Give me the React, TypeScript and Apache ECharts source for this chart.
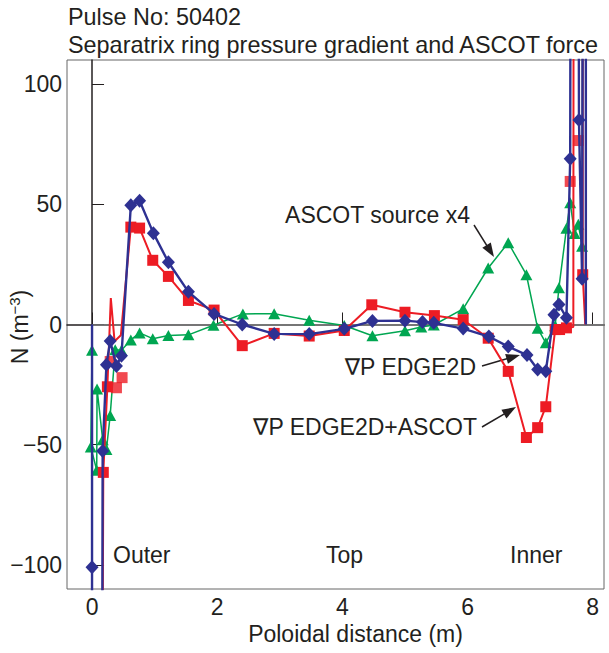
import React, { useEffect, useRef } from 'react';
import * as echarts from 'echarts';

const titleLines = ['Pulse No: 50402', 'Separatrix ring pressure gradient and ASCOT force'];
const xAxisName = 'Poloidal distance (m)';
const xTicks = [0, 2, 4, 6, 8];
const yTicks = [-100, -50, 0, 50, 100];

// [poloidal distance (m), N (m^-3), marker shown: 1, line vertex only: 0]
const edge2d: number[][] = [
  [0, 0, 0], [0, -101, 1], [0, -400, 0], [0.14, -400, 0], [0.17, -52.6, 1],
  [0.23, -16.7, 1], [0.29, -6.9, 1], [0.39, -17.3, 1], [0.47, -13.0, 1],
  [0.62, 49.6, 1], [0.76, 51.5, 1], [0.98, 38.0, 1], [1.22, 25.9, 1],
  [1.54, 13.6, 1], [1.95, 4.4, 1], [2.4, 0, 1], [2.91, -3.9, 1], [3.47, -4.0, 1],
  [4.03, -1.8, 1], [4.48, 1.5, 1], [5.0, 1.6, 1], [5.28, 1.0, 1], [5.46, 0.7, 1],
  [5.93, -1.7, 1], [6.34, -5.0, 1], [6.65, -9.2, 1], [6.95, -12.7, 1],
  [7.12, -18.7, 1], [7.25, -19.4, 1], [7.38, 4.1, 1], [7.46, 8.3, 1],
  [7.58, 2.8, 1], [7.64, 68.9, 1], [7.66, 400, 0], [7.76, 400, 0],
  [7.78, 85, 1], [7.83, 19, 1], [7.86, 400, 0], [7.89, 400, 0], [7.89, 0, 0],
];

const edge2dAscot: number[][] = [
  [0.13, -400, 0], [0.18, -61.5, 1], [0.245, -25.9, 1], [0.3, 11, 0],
  [0.36, -7, 0], [0.46, -4.5, 0], [0.62, 40.5, 1], [0.76, 40.1, 1],
  [0.97, 26.7, 1], [1.22, 20.0, 1], [1.54, 10.0, 1], [1.95, 6.0, 1],
  [2.4, -8.8, 1], [2.91, -3.7, 1], [3.47, -4.8, 1], [4.03, -2.5, 1],
  [4.47, 8.2, 1], [5.0, 5.1, 1], [5.47, 3.7, 1], [5.93, 2.0, 1],
  [6.33, -5.7, 1], [6.65, -19.5, 1], [6.94, -47.0, 1], [7.12, -42.9, 1],
  [7.25, -34.2, 1], [7.4, -2.1, 1], [7.47, -2.1, 1], [7.58, -1.4, 1],
  [7.69, -1, 0], [7.7, 400, 0], [7.84, 400, 0], [7.84, 20.7, 1], [7.88, 0, 0],
];

const edge2dAscotLoose: number[][] = [
  [0.29, -15.4], [0.39, -26.3], [0.48, -22.1], [7.64, 59.5], [7.77, 76.5],
];

const ascotX4: number[][] = [
  [0, -10.7, 1], [-0.02, -50.9, 1], [0.075, -60.6, 1], [0.08, -26.8, 1],
  [0.17, -47.9, 1], [0.23, -52.0, 1], [0.29, -37.8, 1], [0.37, -10.5, 1],
  [0.47, -10.7, 1], [0.62, -6.4, 1], [0.76, -3.5, 1], [0.97, -5.9, 1],
  [1.22, -4.6, 1], [1.54, -4.3, 1], [1.94, -0.3, 1], [2.41, 4.4, 1],
  [2.91, 4.5, 1], [3.47, 1.8, 1], [4.03, -0.4, 1], [4.48, -4.7, 1],
  [5.0, -2.6, 1], [5.26, -1.0, 1], [5.46, -0.2, 1], [5.93, 6.5, 1],
  [6.33, 23.5, 1], [6.65, 34.0, 1], [6.94, 20.7, 1], [7.12, -1.6, 1],
  [7.25, -7.6, 1], [7.4, -0.5, 1], [7.46, 15.3, 1], [7.58, 40.0, 1],
  [7.64, 50.6, 1], [7.71, 37.8, 1], [7.77, 41.7, 1], [7.83, 32.5, 1],
  [7.86, 400, 0],
];

const regionLabels = ['Outer', 'Top', 'Inner'];
const annotations = ['ASCOT source x4', '\u2207P EDGE2D', '\u2207P EDGE2D+ASCOT'];

const X_MIN = -0.4;
const X_MAX = 8.18;
const Y_MIN = -110;
const Y_MAX = 110;

const FONT = '"Liberation Sans", Arial, Helvetica, "DejaVu Sans", sans-serif';
const INK = '#231f20';
const BLUE = '#2e3192';
const RED = '#ed1c24';
const GREEN = '#00a651';

const toData = (pts: number[][]) =>
  pts.map(([x, y, m]) => (m ? [x, y] : { value: [x, y], symbol: 'none' }));

function arrow(x1: number, y1: number, x2: number, y2: number, len = 14, half = 5) {
  const dx = x2 - x1, dy = y2 - y1;
  const d = Math.hypot(dx, dy);
  const ux = dx / d, uy = dy / d;
  const bx = x2 - ux * len, by = y2 - uy * len;
  return [
    { type: 'line', shape: { x1, y1, x2: bx + ux * 2, y2: by + uy * 2 }, style: { stroke: INK, lineWidth: 1.5 } },
    {
      type: 'polygon',
      shape: { points: [[x2, y2], [bx - uy * half, by + ux * half], [bx + uy * half, by - ux * half]] },
      style: { fill: INK },
    },
  ];
}

function txt(text: string, x: number, y: number, align = 'left', size = 23) {
  return {
    type: 'text', x, y,
    style: { text, fontSize: size, fontFamily: FONT, fill: INK, align, verticalAlign: 'middle' },
  };
}

export default function App() {
  const ref = useRef<HTMLDivElement>(null);
  useEffect(() => {
    document.body.style.margin = '0';
    if (!ref.current) return;
    const chart = echarts.init(ref.current, undefined, { renderer: 'svg' });
    const negFmt = (v: number) => (v < 0 ? '\u2212' + Math.abs(v) : String(v));
    chart.setOption({
      animation: false,
      backgroundColor: '#ffffff',
      textStyle: { fontFamily: FONT },
      grid: {
        left: 67, right: 5, top: 60, bottom: 64,
        show: true, borderColor: '#666', borderWidth: 1,
        outerBoundsMode: 'none',
      },
      xAxis: {
        type: 'value', min: X_MIN, max: X_MAX,
        name: xAxisName, nameLocation: 'middle', nameGap: 30,
        nameTextStyle: { fontSize: 23, color: INK, fontFamily: FONT, padding: [0, 0, 0, 40] },
        axisLine: { lineStyle: { color: INK, width: 1.5 } },
        axisTick: { inside: true, length: 12, customValues: xTicks, lineStyle: { color: INK, width: 1 } },
        axisLabel: { customValues: xTicks, fontSize: 23, color: INK, margin: 6, fontFamily: FONT },
        splitLine: { show: false },
      },
      yAxis: {
        type: 'value', min: Y_MIN, max: Y_MAX,
        axisLine: { lineStyle: { color: INK, width: 1.5 } },
        axisTick: { inside: true, length: 12, customValues: yTicks, lineStyle: { color: INK, width: 1 } },
        axisLabel: { customValues: yTicks, fontSize: 23, color: INK, margin: 5, formatter: negFmt, fontFamily: FONT },
        splitLine: { show: false },
      },
      series: [
        {
          name: 'ASCOT source x4', type: 'line', data: toData(ascotX4),
          symbol: 'triangle', symbolSize: [12, 11],
          lineStyle: { color: GREEN, width: 1.5 }, itemStyle: { color: GREEN },
          z: 2,
          markLine: {
            silent: true, symbol: 'none', label: { show: false },
            lineStyle: { color: '#808080', width: 1.5, type: 'solid' },
            data: [[{ coord: [0, 0] }, { coord: [X_MAX, 0] }]],
            z: 1,
          },
        },
        {
          name: '\u2207P EDGE2D+ASCOT', type: 'line', data: toData(edge2dAscot),
          symbol: 'rect', symbolSize: 11,
          lineStyle: { color: RED, width: 2 }, itemStyle: { color: RED },
          z: 3,
        },
        {
          name: '\u2207P EDGE2D+ASCOT points', type: 'scatter', data: edge2dAscotLoose,
          symbol: 'rect', symbolSize: 11, itemStyle: { color: RED }, z: 3,
        },
        {
          name: '\u2207P EDGE2D', type: 'line', data: toData(edge2d),
          symbol: 'diamond', symbolSize: [13, 14],
          lineStyle: { color: BLUE, width: 2.4 }, itemStyle: { color: BLUE },
          z: 4,
        },
      ],
      graphic: [
        {
          type: 'text', x: 20, y: 327, rotation: Math.PI / 2,
          style: {
            text: '{n|N (m}{s|\u22123}{n|)}', align: 'center', verticalAlign: 'middle',
            fill: INK, fontFamily: FONT,
            rich: {
              n: { fontSize: 23, fill: INK, fontFamily: FONT, lineHeight: 26 },
              s: { fontSize: 15, fill: INK, fontFamily: FONT, verticalAlign: 'top', lineHeight: 16 },
            },
          },
        },
        txt(titleLines[0], 68, 17, 'left', 23.4),
        txt(titleLines[1], 68, 45, 'left', 23.4),
        txt(regionLabels[0], 113, 555),
        txt(regionLabels[1], 326, 555),
        txt(regionLabels[2], 510, 555),
        txt(annotations[0], 470, 215, 'right'),
        txt(annotations[1], 476, 367, 'right'),
        txt(annotations[2], 477, 427, 'right'),
        ...arrow(474, 225, 494, 257),
        ...arrow(482, 366, 520, 355),
        ...arrow(482, 427, 516, 407),
      ],
    });
    return () => chart.dispose();
  }, []);
  return <div ref={ref} style={{ width: 609, height: 653 }} />;
}
